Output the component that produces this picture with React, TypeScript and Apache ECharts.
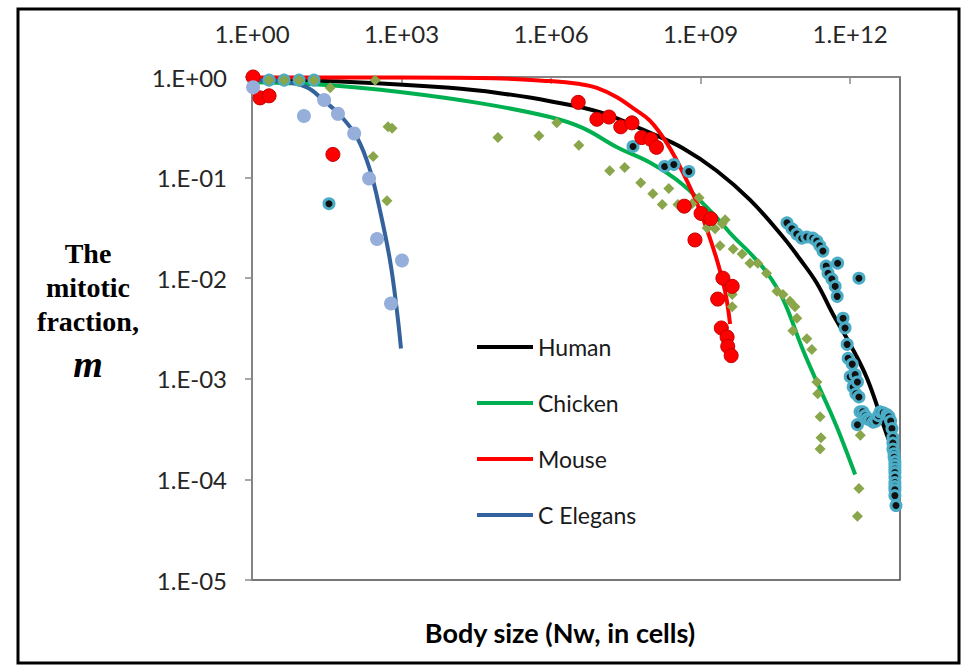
import React, { useEffect, useRef } from "react";
import * as echarts from "echarts";

// ---- Fitted curves ([cells, mitotic fraction]) ----
const humanFit: number[][] = [
  [1, 0.955], [92, 0.89], [9.3e3, 0.78], [9.3e4, 0.69], [9.5e5, 0.575], [9.5e6, 0.447],
  [9.5e7, 0.28], [4.5e8, 0.195], [2.1e9, 0.117], [9.8e9, 0.06], [4.5e10, 0.0257],
  [9.8e10, 0.0155], [2.15e11, 0.0089], [4.5e11, 0.0044], [1.0e12, 0.0022], [2.2e12, 0.001],
  [5.5e12, 2.75e-4], [9.1e12, 1.48e-4],
];
const chickenFit: number[][] = [
  [1, 0.89], [37, 0.83], [930, 0.71], [3.7e4, 0.55], [9.5e5, 0.4], [4.4e6, 0.31],
  [2.1e7, 0.2], [9.6e7, 0.141], [4.4e8, 0.085], [2.1e9, 0.04],
  [4.5e9, 0.026], [9.8e9, 0.0178], [2.1e10, 0.0115], [4.5e10, 0.0062],
  [1.1e11, 0.002], [2.15e11, 9.3e-4], [4.0e11, 4.7e-4], [6.3e11, 2.75e-4], [1.26e12, 1.12e-4],
];
const mouseFit: number[][] = [
  [1, 0.99], [930, 0.99], [3.7e4, 0.98], [9.5e5, 0.91], [3.8e6, 0.85], [8.3e6, 0.78],
  [2.1e7, 0.63], [4.4e7, 0.49], [9.5e7, 0.37], [2.1e8, 0.22], [4.5e8, 0.11], [9.7e8, 0.047],
  [2.1e9, 0.0155], [3.1e9, 0.0074], [3.9e9, 0.0035],
];
const elegansFit: number[][] = [
  [1, 0.93], [3.6, 0.91], [12.7, 0.79], [26.6, 0.59], [58, 0.42], [128, 0.25],
  [234, 0.118], [370, 0.047], [590, 0.0148], [810, 0.0047], [975, 0.002],
];

// ---- Measured data points ----
const mouseData: number[][] = [
  [1.05, 1.0], [1.45, 0.62], [2.2, 0.65], [42, 0.17], [3.5e6, 0.56], [8.3e6, 0.38],
  [1.45e7, 0.4], [2.5e7, 0.32], [4.2e7, 0.35], [6.6e7, 0.25], [1.0e8, 0.24], [1.3e8, 0.2],
  [4.7e8, 0.052], [1.02e9, 0.044], [1.6e9, 0.039], [7.7e8, 0.024], [2.8e9, 0.01],
  [4.3e9, 0.0083], [2.2e9, 0.0062], [2.6e9, 0.0032], [3.4e9, 0.0026], [3.5e9, 0.0021],
  [4.1e9, 0.0017],
];
const elegansData: number[][] = [
  [1.05, 0.79], [11, 0.41], [28, 0.59], [53, 0.43], [112, 0.275], [223, 0.098],
  [323, 0.0245], [1020, 0.015], [615, 0.0056],
];
const chickenData: number[][] = [
  [2.2, 0.93], [4.4, 0.93], [8.8, 0.93], [17.5, 0.93], [37, 0.78], [295, 0.93],
  [535, 0.32], [645, 0.31], [270, 0.162], [510, 0.059], [8.6e4, 0.25], [5.7e5, 0.26],
  [1.3e6, 0.35], [3.6e6, 0.21], [1.5e7, 0.117], [3.0e7, 0.126], [6.3e7, 0.089],
  [1.1e8, 0.069], [2.3e8, 0.078], [1.7e8, 0.054], [3.5e8, 0.054], [6.7e8, 0.055],
  [9.3e8, 0.063], [1.35e9, 0.0316], [1.95e9, 0.031], [2.7e9, 0.0347], [3.1e9, 0.038],
  [2.45e9, 0.021], [4.5e9, 0.0195], [6.8e9, 0.0174], [9.8e9, 0.0141], [1.4e10, 0.0141],
  [2.1e10, 0.0112], [3.4e10, 0.0074], [4.5e10, 0.0069], [6.2e10, 0.0059], [7.8e10, 0.0052],
  [8.5e10, 0.004], [7.1e10, 0.003], [1.35e11, 0.0025], [1.7e11, 0.00195], [2.15e11, 9.3e-4],
  [2.24e11, 7.1e-4], [2.5e11, 4.2e-4], [2.6e11, 2.6e-4], [2.5e11, 2.0e-4], [1.6e12, 2.75e-4],
  [1.5e12, 8.1e-5], [1.4e12, 4.3e-5], [4.3e9, 0.0069], [4.3e9, 0.0052],
];
const humanData: number[][] = [
  [2.2, 0.93], [4.4, 0.93], [8.8, 0.93], [17.5, 0.93], [35, 0.055], [4.4e7, 0.204],
  [1.9e8, 0.129], [2.9e8, 0.135], [5.8e8, 0.115], [5.4e10, 0.0355], [6.8e10, 0.031],
  [8.5e10, 0.0275], [1.07e11, 0.025], [1.35e11, 0.0257], [1.78e11, 0.025], [2.15e11, 0.0234],
  [2.47e11, 0.021], [2.84e11, 0.0186], [5.6e11, 0.0141], [3.3e11, 0.0132], [3.6e11, 0.0112],
  [4.3e11, 0.0098], [5.0e11, 0.0083], [5.5e11, 0.0066], [1.5e12, 0.01], [7.2e11, 0.004],
  [7.9e11, 0.0032], [8.7e11, 0.0022], [9.1e11, 0.0016], [1.0e12, 1.05e-3], [1.1e12, 0.0014],
  [1.15e12, 8.3e-4], [1.26e12, 0.0011], [1.3e12, 7.1e-4], [1.4e12, 9.3e-4], [1.5e12, 6.6e-4],
  [1.4e12, 3.5e-4], [1.58e12, 4.7e-4], [1.8e12, 4.7e-4], [2.0e12, 4.3e-4], [2.2e12, 4.0e-4],
  [2.5e12, 3.9e-4], [2.9e12, 3.7e-4], [3.3e12, 3.8e-4], [3.7e12, 4.3e-4], [4.0e12, 4.7e-4],
  [4.6e12, 4.6e-4], [5.5e12, 4.4e-4], [6.0e12, 4.2e-4], [6.5e12, 3.8e-4], [6.9e12, 3.2e-4],
  [7.2e12, 2.6e-4], [7.2e12, 2.3e-4], [7.2e12, 2.0e-4], [7.6e12, 1.8e-4], [7.6e12, 1.66e-4],
  [7.9e12, 1.5e-4], [7.9e12, 1.38e-4], [7.9e12, 1.27e-4], [7.9e12, 1.17e-4], [7.9e12, 1.05e-4],
  [7.9e12, 9.3e-5], [7.9e12, 8.5e-5], [7.9e12, 7.9e-5], [7.9e12, 6.9e-5], [8.3e12, 5.5e-5],
];

// ---- Tick labels ----
const xTickValues = [1, 1e3, 1e6, 1e9, 1e12];
const xTickLabels = ["1.E+00", "1.E+03", "1.E+06", "1.E+09", "1.E+12"];
const yTickValues = [1, 1e-1, 1e-2, 1e-3, 1e-4, 1e-5];
const yTickLabels = ["1.E+00", "1.E-01", "1.E-02", "1.E-03", "1.E-04", "1.E-05"];

const legendNames = ["Human", "Chicken", "Mouse", "C Elegans"];
const yTitleLines = ["The", "mitotic", "fraction,"];

function labelFor(values: number[], labels: string[], v: number): string {
  const i = values.findIndex((t) => Math.abs(Math.log10(t) - Math.log10(v)) < 1e-6);
  return i >= 0 ? labels[i] : "";
}

export default function App() {
  const ref = useRef<HTMLDivElement>(null);
  useEffect(() => {
    if (!ref.current) return;
    const chart = echarts.init(ref.current, undefined, { renderer: "svg" });
    const tickFont = "Lato";
    const lineSeries = (name: string, data: number[][], color: string) => ({
      name,
      type: "line",
      data,
      smooth: 0.4,
      showSymbol: false,
      color,
      itemStyle: { color },
      lineStyle: { color, width: 4 },
      z: 2,
    });
    chart.setOption({
      animation: false,
      backgroundColor: "#ffffff",
      grid: {
        left: 252,
        top: 77,
        width: 648,
        height: 503,
        show: true,
        borderColor: "#4a4a4a",
        borderWidth: 1.5,
        backgroundColor: "transparent",
      },
      legend: {
        data: legendNames,
        orient: "vertical",
        left: 472,
        top: 330,
        icon: "rect",
        itemWidth: 56,
        itemHeight: 4,
        itemGap: 32,
        textStyle: { fontFamily: tickFont, fontSize: 23, color: "#1a1a1a", lineHeight: 24 },
      },
      xAxis: {
        type: "log",
        position: "top",
        min: 1,
        max: 1e13,
        interval: 3,
        axisLine: { show: true, lineStyle: { color: "#8a8a8a", width: 1.5 } },
        axisTick: { show: true, inside: true, length: 7, lineStyle: { color: "#8a8a8a", width: 1.5 } },
        axisLabel: {
          margin: 32,
          fontFamily: tickFont,
          fontSize: 24,
          color: "#262626",
          showMaxLabel: false,
          formatter: (v: number) => labelFor(xTickValues, xTickLabels, v),
        },
        splitLine: { show: false },
        minorTick: { show: false },
      },
      yAxis: {
        type: "log",
        min: 1e-5,
        max: 1,
        interval: 1,
        axisLine: { show: true, lineStyle: { color: "#8a8a8a", width: 1.5 } },
        axisTick: { show: true, inside: false, length: 7, lineStyle: { color: "#8a8a8a", width: 1.5 } },
        axisLabel: {
          margin: 25,
          fontFamily: tickFont,
          fontSize: 24,
          color: "#262626",
          formatter: (v: number) => labelFor(yTickValues, yTickLabels, v),
        },
        splitLine: { show: false },
      },
      series: [
        lineSeries("Human", humanFit, "#000000"),
        lineSeries("Chicken", chickenFit, "#00B050"),
        lineSeries("Mouse", mouseFit, "#FF0000"),
        lineSeries("C Elegans", elegansFit, "#34629C"),
        {
          name: "Human data",
          type: "scatter",
          data: humanData,
          symbol: "circle",
          symbolSize: 10,
          itemStyle: { color: "#111111", borderColor: "#4BACC6", borderWidth: 3, opacity: 1 },
          z: 3,
        },
        {
          name: "Chicken data",
          type: "scatter",
          data: chickenData,
          symbol: "diamond",
          symbolSize: 11,
          itemStyle: { color: "#8AA64A", opacity: 1 },
          z: 4,
        },
        {
          name: "Mouse data",
          type: "scatter",
          data: mouseData,
          symbol: "circle",
          symbolSize: 14,
          itemStyle: { color: "#FF0000", borderColor: "#C00000", borderWidth: 1, opacity: 1 },
          z: 4,
        },
        {
          name: "C Elegans data",
          type: "scatter",
          data: elegansData,
          symbol: "circle",
          symbolSize: 14,
          itemStyle: { color: "#95AEDA", opacity: 1 },
          z: 4,
        },
      ],
      graphic: [
        {
          type: "rect",
          shape: { x: 18, y: 9, width: 941, height: 654 },
          style: { fill: "none", stroke: "#000000", lineWidth: 3 },
          silent: true,
          z: 100,
        },
        ...yTitleLines.map((t, i) => ({
          type: "text",
          x: 88,
          y: 253 + i * 34,
          style: {
            text: t,
            font: "bold 28px 'Liberation Serif'",
            fill: "#000000",
            align: "center",
            verticalAlign: "middle",
          },
        })),
        {
          type: "text",
          x: 88,
          y: 364,
          style: {
            text: "m",
            font: "italic bold 38px 'Liberation Serif'",
            fill: "#000000",
            align: "center",
            verticalAlign: "middle",
          },
        },
        {
          type: "text",
          x: 560,
          y: 632,
          style: {
            text: "Body size (Nw, in cells)",
            font: "bold 27px Lato",
            fill: "#000000",
            align: "center",
            verticalAlign: "middle",
          },
        },
      ],
    });
    return () => chart.dispose();
  }, []);
  return (
    <div
      ref={ref}
      style={{ position: "absolute", left: 0, top: 0, width: 963, height: 667, background: "#fff" }}
    />
  );
}
